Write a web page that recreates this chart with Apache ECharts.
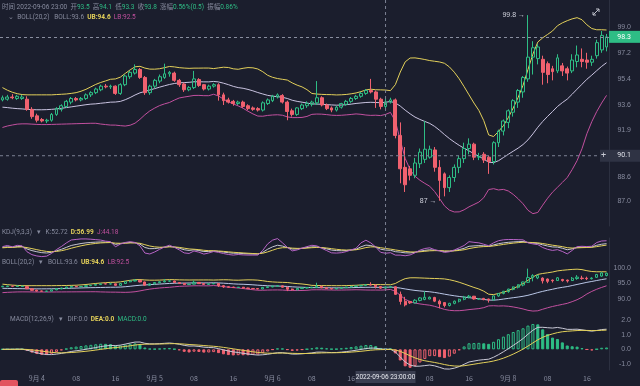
<!DOCTYPE html>
<html><head><meta charset="utf-8">
<script src="https://cdn.jsdelivr.net/npm/echarts@6/dist/echarts.min.js"></script>
<style>html,body{margin:0;padding:0;background:#1b1e2d;}#c{width:640px;height:386px;}</style>
</head><body><div id="c"></div>
<script>
// ---- data (hourly candles from 2022-09-03 17:00) ----
const startUTC = [2022, 8, 3, 17];
const opens = [93.95,94.00,94.15,94.05,94.05,94.00,93.30,92.85,92.60,92.50,92.55,92.95,93.30,93.50,93.80,94.05,93.95,94.05,94.30,94.45,94.65,94.90,94.85,94.90,94.40,95.00,95.55,95.80,96.05,95.50,94.45,94.90,95.25,95.50,95.75,95.80,95.30,95.05,94.65,94.80,95.35,95.00,94.70,94.90,95.00,94.30,93.95,93.85,93.70,93.80,93.55,93.40,93.35,93.25,93.70,93.90,94.15,94.25,93.80,93.20,92.95,93.35,93.55,93.65,93.75,94.10,93.60,93.40,93.25,93.45,93.65,93.85,94.05,94.20,94.40,94.60,94.50,94.00,93.50,93.80,93.95,91.50,89.30,89.20,88.75,89.55,89.85,90.00,90.50,89.30,88.85,87.90,88.60,89.30,89.90,90.60,90.90,90.00,90.20,90.00,89.70,91.00,91.80,92.40,93.10,93.80,94.50,95.40,96.90,96.80,96.75,96.45,96.10,95.95,96.30,96.10,95.95,96.60,96.75,96.70,96.55,97.00,97.40,97.60];
const highs = [94.25,94.30,94.35,94.30,94.30,94.20,93.45,93.00,92.70,92.65,93.05,93.45,93.65,93.95,94.15,94.15,94.15,94.40,94.55,94.80,95.00,95.05,95.00,94.95,95.10,95.70,95.95,96.40,96.15,95.60,95.00,95.40,95.70,96.45,95.95,95.90,95.40,95.15,94.90,95.95,95.45,95.05,95.00,95.10,95.10,94.45,94.10,93.95,93.90,93.90,93.65,93.50,93.45,93.85,94.05,94.30,94.40,94.35,93.90,93.35,93.45,93.70,93.85,93.90,95.25,94.20,93.70,93.50,93.55,93.75,93.95,94.15,94.30,94.50,94.70,95.40,94.60,94.10,94.10,94.10,94.05,92.40,90.70,89.40,89.95,90.60,92.50,90.80,90.70,89.80,88.95,88.75,89.50,90.10,91.00,91.30,91.00,90.30,90.35,90.10,91.10,91.90,92.60,93.30,94.00,94.70,95.60,99.80,98.00,97.80,97.00,96.60,96.30,97.10,96.50,96.25,97.10,97.70,97.50,97.20,97.00,98.10,98.70,98.50];
const lows = [93.85,93.90,94.00,93.95,93.95,93.20,92.65,92.40,92.40,92.35,92.45,92.85,93.15,93.40,93.65,93.85,93.85,93.95,94.15,94.35,94.55,94.75,94.70,94.30,94.30,94.90,95.40,95.70,95.40,94.30,94.30,94.75,95.10,95.40,95.55,95.20,94.85,94.50,94.55,94.70,94.85,94.60,94.60,94.80,93.90,93.60,93.70,93.55,93.60,93.40,93.25,93.20,93.15,93.15,93.60,93.80,94.05,93.70,92.55,92.80,92.85,93.25,93.40,93.50,93.60,93.50,93.25,93.10,93.15,93.35,93.55,93.75,93.95,94.10,94.30,94.40,93.40,93.30,93.30,93.70,91.30,88.20,87.60,88.40,88.55,89.25,89.60,89.90,89.00,87.00,87.30,87.60,88.30,88.90,89.60,90.20,89.80,89.80,89.60,88.85,89.50,90.70,91.50,92.00,92.80,93.40,94.10,95.20,95.70,96.40,95.00,95.10,95.30,95.80,95.60,95.30,95.80,96.20,96.20,96.10,96.30,96.80,97.20,97.30];
const closes = [94.10,94.15,94.10,94.20,94.15,93.30,92.80,92.55,92.50,92.55,92.95,93.35,93.55,93.85,94.05,93.95,94.05,94.30,94.45,94.70,94.90,94.85,94.90,94.40,95.00,95.60,95.85,96.05,95.50,94.45,94.90,95.30,95.55,95.75,95.85,95.30,95.00,94.65,94.80,95.40,94.95,94.70,94.90,95.00,94.30,93.90,93.80,93.70,93.80,93.50,93.35,93.30,93.25,93.75,93.95,94.20,94.30,93.80,93.15,92.95,93.40,93.60,93.70,93.80,94.10,93.60,93.35,93.25,93.45,93.70,93.85,94.05,94.20,94.40,94.60,94.50,94.00,93.50,93.80,93.95,91.50,89.20,88.10,88.75,89.60,90.35,90.55,90.55,89.30,88.40,87.90,88.60,89.30,89.90,90.60,90.90,90.00,90.05,89.80,89.70,91.00,91.80,92.50,93.20,93.90,94.60,95.50,96.90,97.55,97.60,95.85,95.70,95.90,96.85,95.95,95.80,96.70,97.05,96.60,96.55,96.75,97.90,98.40,98.30];
// BOLL values of the first 19 candles (their 20-hour window starts before the visible range)
const bollHeadUp  = [94.80,94.62,94.48,94.38,94.32,94.30,94.30,94.30,94.30,94.30,94.30,94.32,94.34,94.36,94.40,94.45,94.55,94.68,94.85];
const bollHeadMid = [93.45,93.42,93.38,93.35,93.33,93.30,93.28,93.27,93.27,93.28,93.30,93.33,93.37,93.42,93.47,93.52,93.57,93.62,93.66];
const bollHeadLow = [92.05,92.15,92.22,92.28,92.30,92.30,92.28,92.26,92.25,92.25,92.26,92.27,92.28,92.29,92.30,92.31,92.32,92.33,92.34];
const mainTicks = [87.0, 88.6, 90.1, 91.9, 93.6, 95.4, 97.2, 99.0];
const subBollTicks = [90, 95, 100];
const macdTicks = [-1, 0, 1, 2];
const lastPrice = 98.3;
const crossIndex = 78;
const crossPrice = 90.1;
const changeText = '0.56%(0.5)';
const ampText = '0.86%';
const bollLegend = ['BOLL:93.6', 'UB:94.6', 'LB:92.5'];
const kdjLegend = ['K:52.72', 'D:56.99', 'J:44.18'];
const macdLegend = ['DIF:0.0', 'DEA:0.0', 'MACD:0.0'];

const GREEN = '#2ebd85', RED = '#f0616f', YEL = '#e3d05a', MID = '#c9c3e0', PINK = '#c2509f', GREY = '#878b9e';
const N = closes.length;
const pad = n => (n < 10 ? '0' : '') + n;
const cats = [];
for (let i = 0; i < N; i++) {
  const t = new Date(Date.UTC(startUTC[0], startUTC[1], startUTC[2], startUTC[3] + i));
  cats.push(t.getUTCFullYear() + '-' + pad(t.getUTCMonth() + 1) + '-' + pad(t.getUTCDate()) + ' ' + pad(t.getUTCHours()) + ':00');
}
const ohlc = closes.map((c, i) => [opens[i], c, lows[i], highs[i]]);

// BOLL(20,2)
const up = [], mb = [], lb = [];
for (let i = 0; i < N; i++) {
  if (i < 19) { up.push(bollHeadUp[i]); mb.push(bollHeadMid[i]); lb.push(bollHeadLow[i]); continue; }
  const w = closes.slice(i - 19, i + 1);
  const m = w.reduce((a, b) => a + b, 0) / w.length;
  const sd = Math.sqrt(w.reduce((a, b) => a + (b - m) * (b - m), 0) / w.length);
  mb.push(+m.toFixed(3)); up.push(+(m + 2 * sd).toFixed(3)); lb.push(+(m - 2 * sd).toFixed(3));
}
// KDJ(9,3,3)
const K = [], D = [], J = [];
let kp = 50, dp = 50;
for (let i = 0; i < N; i++) {
  const s = Math.max(0, i - 8);
  const hh = Math.max(...highs.slice(s, i + 1)), ll = Math.min(...lows.slice(s, i + 1));
  const rsv = hh === ll ? 50 : (closes[i] - ll) / (hh - ll) * 100;
  kp = (2 * kp + rsv) / 3; dp = (2 * dp + kp) / 3;
  K.push(kp); D.push(dp); J.push(3 * kp - 2 * dp);
}
// MACD(12,26,9)
const DIF = [], DEA = [], HIST = [];
let e12 = closes[0], e26 = closes[0], dea = 0;
for (let i = 0; i < N; i++) {
  e12 = e12 + (closes[i] - e12) * 2 / 13;
  e26 = e26 + (closes[i] - e26) * 2 / 27;
  const dif = e12 - e26;
  dea = dea + (dif - dea) * 2 / 10;
  DIF.push(dif); DEA.push(dea); HIST.push(2 * (dif - dea));
}
const histData = HIST.map((v, i) => {
  const rising = i === 0 ? true : v >= HIST[i - 1];
  const c = v >= 0 ? GREEN : RED;
  return { value: v, itemStyle: rising ? { color: 'rgba(0,0,0,0)', borderColor: c, borderWidth: 1 } : { color: c, borderColor: c, borderWidth: 1 } };
});

const chart = echarts.init(document.getElementById('c'));
const grids = [
  { left: 0, right: 31, top: 0, height: 226 },
  { left: 0, right: 31, top: 238, height: 20 },
  { left: 0, right: 31, top: 258, height: 56 },
  { left: 0, right: 31, top: 314, height: 56 }
];
const xAxes = grids.map((g, gi) => ({
  type: 'category', gridIndex: gi, data: cats, boundaryGap: true,
  axisLine: { show: false }, axisTick: { show: false }, splitLine: { show: false },
  axisLabel: gi === 3 ? {
    show: true, color: GREY, fontSize: 7, margin: 5, fontFamily: 'Noto Sans CJK SC',
    interval: (idx) => parseInt(cats[idx].slice(11, 13)) % 8 === 0,
    formatter: (v) => { const h = v.slice(11, 13); return h === '00' ? '9月 ' + parseInt(v.slice(8, 10)) : h; }
  } : { show: false }
}));
const lab = (vals) => ({ show: true, customValues: vals, color: GREY, fontSize: 7, margin: 22, align: 'right', formatter: v => Number(v).toFixed(1) });
const yAxes = [
  { type: 'value', gridIndex: 0, position: 'right', min: 85.255, max: 100.841, scale: true, axisLabel: lab(mainTicks), splitLine: { show: false }, axisLine: { show: true, lineStyle: { color: '#2c3040' } }, axisTick: { show: false } },
  { type: 'value', gridIndex: 1, position: 'right', min: -20, max: 120, axisLabel: { show: false }, splitLine: { show: false }, axisLine: { show: true, lineStyle: { color: '#2c3040' } }, axisTick: { show: false } },
  { type: 'value', gridIndex: 2, position: 'right', min: 85.16, max: 103.23, scale: true, axisLabel: lab(subBollTicks), splitLine: { show: false }, axisLine: { show: true, lineStyle: { color: '#2c3040' } }, axisTick: { show: false } },
  { type: 'value', gridIndex: 3, position: 'right', min: -1.409, max: 2.409, scale: true, axisLabel: lab(macdTicks), splitLine: { show: false }, axisLine: { show: true, lineStyle: { color: '#2c3040' } }, axisTick: { show: false } }
];
const line = (data, color, gi, z) => ({ type: 'line', xAxisIndex: gi, yAxisIndex: gi, data, symbol: 'none', lineStyle: { color, width: 1 }, z: z || 3, silent: true });
const candleStyle = { color: 'rgba(0,0,0,0)', color0: RED, borderColor: GREEN, borderColor0: RED, borderWidth: 1 };

chart.setOption({
  animation: false,
  backgroundColor: '#1b1e2d',
  grid: grids, xAxis: xAxes, yAxis: yAxes,
  series: [
    { type: 'candlestick', xAxisIndex: 0, yAxisIndex: 0, data: ohlc, barWidth: '68%', itemStyle: candleStyle, z: 4,
      markPoint: { symbol: 'circle', symbolSize: 0, data: [{ type: 'max', valueDim: 'highest' }, { type: 'min', valueDim: 'lowest' }],
        label: { show: true, position: 'left', distance: 3, color: '#d0d2dc', fontSize: 7, formatter: p => p.value + ' →' } },
      markLine: { symbol: 'none', silent: true, label: { show: false }, lineStyle: { color: '#8a8fa0', type: [3, 3], width: 1 }, data: [{ yAxis: lastPrice }] } },
    line(up, YEL, 0), line(mb, MID, 0), line(lb, PINK, 0),
    line(K, '#c6c6d2', 1), line(D, YEL, 1), line(J, '#b764c6', 1),
    { type: 'candlestick', xAxisIndex: 2, yAxisIndex: 2, data: ohlc, barWidth: '55%', itemStyle: candleStyle, z: 4 },
    line(up, YEL, 2), line(mb, '#b9c6e6', 2), line(lb, PINK, 2),
    { type: 'bar', xAxisIndex: 3, yAxisIndex: 3, data: histData, barWidth: '62%', z: 2 },
    line(DIF, '#c9c9d6', 3), line(DEA, YEL, 3)
  ]
});

// overlay texts and crosshair
const F = 'Roboto, "Noto Sans CJK SC", sans-serif';
const mkRich = (s) => ({
  g: { fill: GREY, fontSize: s, fontFamily: F },
  v: { fill: GREEN, fontSize: s, fontFamily: F },
  y: { fill: YEL, fontSize: s, fontFamily: F, fontWeight: 'bold' },
  p: { fill: PINK, fontSize: s, fontFamily: F },
  t: { fill: GREEN, fontSize: s, fontFamily: F }
});
const RT = (x, y, text, size) => ({ type: 'text', x, y, z: 100, style: { text, fontSize: size, fontFamily: F, verticalAlign: 'middle', fill: GREY, rich: mkRich(size) } });
const TT = (x, y, text, fill, size, align) => ({ type: 'text', x, y, z: 100, style: { text, fill, fontSize: size, fontFamily: F, verticalAlign: 'middle', align: align || 'left' } });
const cx = chart.convertToPixel({ xAxisIndex: 0 }, cats[crossIndex]);
const cy = chart.convertToPixel({ yAxisIndex: 0 }, crossPrice);
const py = chart.convertToPixel({ yAxisIndex: 0 }, lastPrice);
const ci = crossIndex;
const els = [];
els.push(RT(2, 7, '{g|时间 ' + cats[ci] + '}  {g|开}{v|' + opens[ci].toFixed(1) + '}  {g|高}{v|' + highs[ci].toFixed(1) + '}  {g|低}{v|' + lows[ci].toFixed(1) + '}  {g|收}{v|' + closes[ci].toFixed(1) + '}  {g|涨幅}{v|' + changeText + '}  {g|振幅}{v|' + ampText + '}', 6.5));
els.push(RT(8, 17, '{g|⌄  BOLL(20,2)}   {g|' + bollLegend[0] + '}  {y|' + bollLegend[1] + '}  {p|' + bollLegend[2] + '}', 6.5));
els.push(RT(2, 232, '{g|KDJ(9,3,3)   ▾   ' + kdjLegend[0] + '}  {y|' + kdjLegend[1] + '}  {p|' + kdjLegend[2] + '}', 6.5));
els.push(RT(2, 262, '{g|BOLL(20,2)   ▾   ' + bollLegend[0] + '}  {y|' + bollLegend[1] + '}  {p|' + bollLegend[2] + '}', 6.5));
els.push(RT(10, 319, '{g|MACD(12,26,9)   ▾   ' + macdLegend[0] + '}  {y|' + macdLegend[1] + '}  {t|' + macdLegend[2] + '}', 6.5));
// crosshair
els.push({ type: 'line', shape: { x1: cx, y1: 0, x2: cx, y2: 370 }, style: { stroke: '#7d8294', lineDash: [3, 3], lineWidth: 1 }, z: 90 });
els.push({ type: 'line', shape: { x1: 0, y1: cy, x2: 609, y2: cy }, style: { stroke: '#7d8294', lineDash: [3, 3], lineWidth: 1 }, z: 90 });
els.push({ type: 'rect', shape: { x: 600, y: cy - 6, width: 40, height: 12 }, style: { fill: '#2f3344' }, z: 95 });
els.push(TT(601, cy, '+', '#c8cad4', 9));
els.push(TT(631, cy, crossPrice.toFixed(1), '#e0e2ea', 7, 'right'));
els.push({ type: 'rect', shape: { x: cx - 30, y: 371, width: 60, height: 12 }, style: { fill: '#3a3e50' }, z: 95 });
els.push(TT(cx, 377, cats[ci] + ':00', '#e6e8ee', 6.5, 'center'));
// last price tag
els.push({ type: 'rect', shape: { x: 609, y: py - 6, width: 31, height: 12 }, style: { fill: GREEN }, z: 95 });
els.push(TT(631, py, lastPrice.toFixed(1), '#ffffff', 7, 'right'));
// corner icon and bottom tag
els.push({ type: 'polyline', shape: { points: [[593, 15], [599, 9]] }, style: { stroke: '#c0c2cc', lineWidth: 1 }, z: 95 });
els.push({ type: 'polyline', shape: { points: [[596, 9], [599, 9], [599, 12]] }, style: { stroke: '#c0c2cc', lineWidth: 1, fill: null }, z: 95 });
els.push({ type: 'polyline', shape: { points: [[593, 12], [593, 15], [596, 15]] }, style: { stroke: '#c0c2cc', lineWidth: 1, fill: null }, z: 95 });
els.push({ type: 'rect', shape: { x: 0, y: 380, width: 18, height: 8, r: 2 }, style: { fill: '#e2545f' }, z: 95 });
chart.setOption({ graphic: { elements: els } });
</script></body></html>
